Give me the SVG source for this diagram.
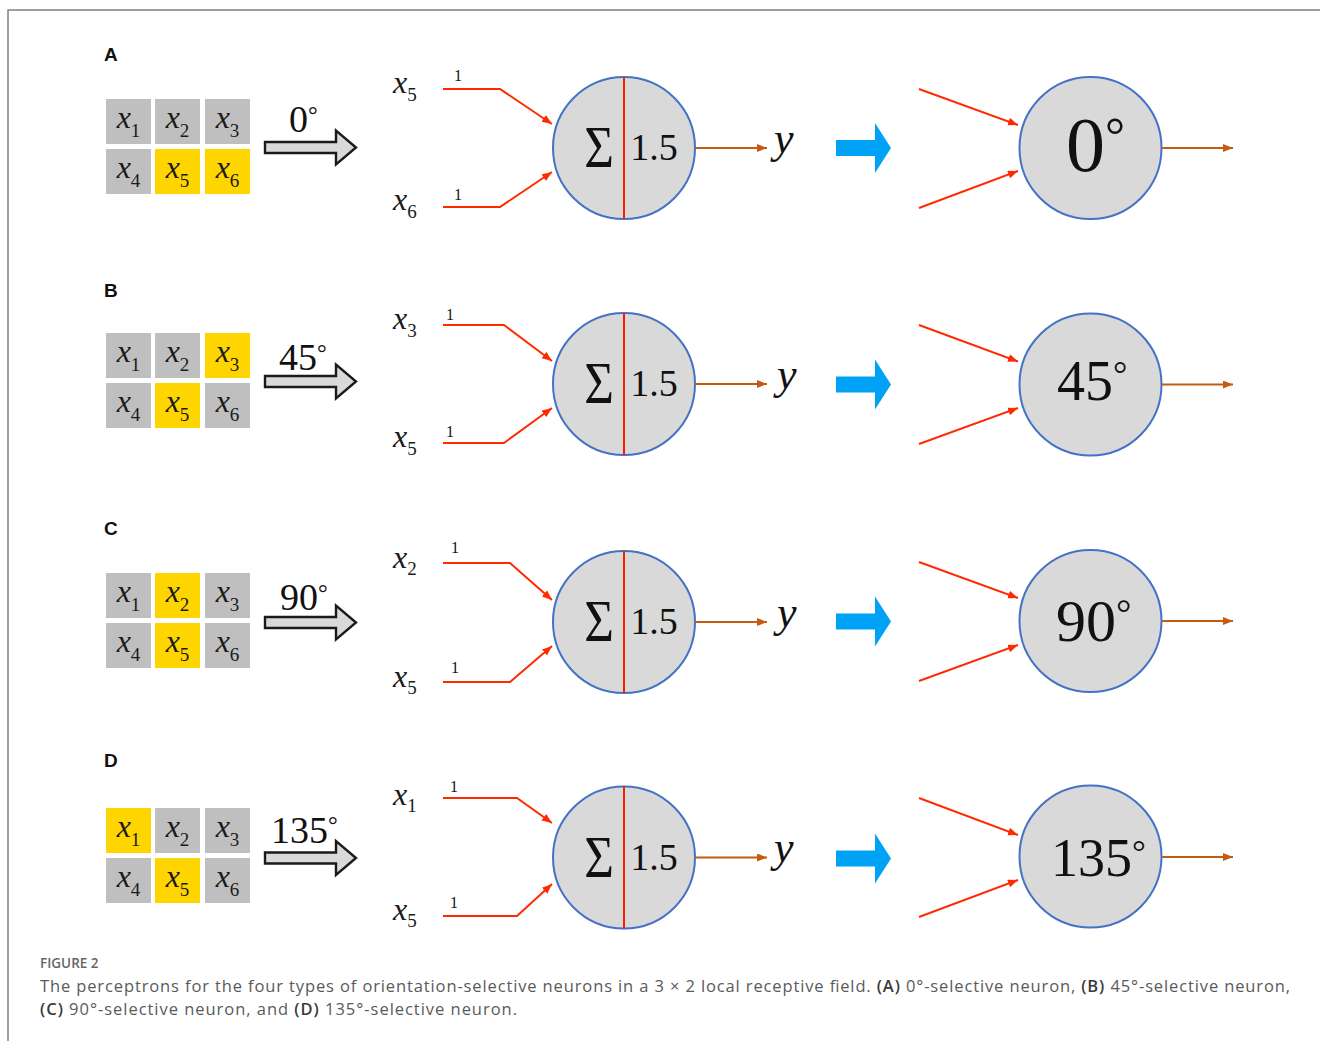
<svg xmlns="http://www.w3.org/2000/svg" xmlns:xlink="http://www.w3.org/1999/xlink" width="1320" height="1041" viewBox="0 0 1320 1041">
<style>
.bg{fill:#ffffff}
.frame{fill:none;stroke:#808080;stroke-width:1.5}
.plabel{font-family:"Liberation Sans",Arial,sans-serif;font-weight:bold;font-size:19px;fill:#111}
.cg{fill:#bfbfbf}
.cy{fill:#ffd500}
.v{font-family:"Liberation Serif","Times New Roman",serif;font-style:italic;font-size:32px;fill:#1a1a1a}
.sub{font-style:normal;font-size:19px}
.w{font-family:"Liberation Serif","Times New Roman",serif;font-size:16px;fill:#111}
.ang{font-family:"Liberation Serif","Times New Roman",serif;font-size:38px;fill:#111}
.big{font-family:"Liberation Serif","Times New Roman",serif;fill:#111}
.deg{font-size:64%}
.sig{font-family:"Liberation Serif","Times New Roman",serif;font-size:60px;fill:#111}
.thr{font-family:"Liberation Serif","Times New Roman",serif;font-size:38px;fill:#111}
.yv{font-family:"Liberation Serif","Times New Roman",serif;font-style:italic;font-size:44px;fill:#111}
.neuron{fill:#d9d9d9;stroke:#4472c4;stroke-width:2}
.split{stroke:#ff1a00;stroke-width:2}
.hollow{fill:#d9d9d9;stroke:#1a1a1a;stroke-width:2.4;stroke-linejoin:miter}
.blue{fill:#00a2f5}
.in{fill:none;stroke:#ff2a00;stroke-width:2;marker-end:url(#mr)}
.out{fill:none;stroke:#c55a11;stroke-width:2;marker-end:url(#mo)}
.cap{font-family:"Open Sans","Liberation Sans",sans-serif;font-size:16.5px;fill:#5a5a5a}
.capb{font-weight:600;fill:#3a3a3a}
.fig{font-family:"Open Sans","Liberation Sans",sans-serif;font-size:13.5px;font-weight:600;fill:#666}
</style>
<defs>
<marker id="mr" markerUnits="userSpaceOnUse" markerWidth="11" markerHeight="9" refX="10" refY="4" orient="auto"><path d="M0,0 L10,4 L0,8 Z" fill="#ff2a00"/></marker>
<marker id="mo" markerUnits="userSpaceOnUse" markerWidth="11" markerHeight="9" refX="10" refY="4" orient="auto"><path d="M0,0 L10,4 L0,8 Z" fill="#c55a11"/></marker>
<path id="ha" d="M265,-5.5 H336 V-17 L356,0 L336,17 V5.5 H265 Z"/>
<path id="ba" d="M836,-8 H875 V-25 L891,0 L875,25 V8 H836 Z"/>
</defs>
<rect class="bg" x="0" y="0" width="1320" height="1041"/>
<path class="frame" d="M8,1041 V10 H1320"/>

<!-- Panel A -->
<g id="panelA">
<text class="plabel" x="104" y="61">A</text>
<g id="gridA">
<rect class="cg" x="106" y="99" width="45" height="45"/><rect class="cg" x="155" y="99" width="45" height="45"/><rect class="cg" x="205" y="99" width="45" height="45"/>
<rect class="cg" x="106" y="149" width="45" height="45"/><rect class="cy" x="155" y="149" width="45" height="45"/><rect class="cy" x="205" y="149" width="45" height="45"/>
<text class="v" x="128.5" y="128" text-anchor="middle">x<tspan class="sub" dy="9">1</tspan></text>
<text class="v" x="177.5" y="128" text-anchor="middle">x<tspan class="sub" dy="9">2</tspan></text>
<text class="v" x="227.5" y="128" text-anchor="middle">x<tspan class="sub" dy="9">3</tspan></text>
<text class="v" x="128.5" y="178" text-anchor="middle">x<tspan class="sub" dy="9">4</tspan></text>
<text class="v" x="177.5" y="178" text-anchor="middle">x<tspan class="sub" dy="9">5</tspan></text>
<text class="v" x="227.5" y="178" text-anchor="middle">x<tspan class="sub" dy="9">6</tspan></text>
</g>
<g id="rotA"><use xlink:href="#ha" href="#ha" y="147.5" class="hollow"/><text class="ang" x="289" y="132">0<tspan class="deg" dy="-9">°</tspan></text></g>
<g id="inputsA">
<text class="v" x="393" y="93">x<tspan class="sub" dy="8">5</tspan></text>
<text class="v" x="393" y="210">x<tspan class="sub" dy="8">6</tspan></text>
<text class="w" x="458" y="81" text-anchor="middle">1</text>
<text class="w" x="458" y="200" text-anchor="middle">1</text>
</g>
<g id="neuronA"><circle class="neuron" cx="624" cy="148" r="71"/><line class="split" x1="624" y1="77" x2="624" y2="219"/>
<text class="sig" transform="translate(599,167) scale(0.85,1)" text-anchor="middle">Σ</text><text class="thr" x="654" y="160" text-anchor="middle">1.5</text></g>
<text class="yv" x="774" y="153">y</text>
<use xlink:href="#ba" href="#ba" y="148" class="blue"/>
<g id="outA"><circle class="neuron" cx="1090.5" cy="148" r="71"/><text class="big" x="1066" y="171" font-size="78">0<tspan class="deg" dy="-19">°</tspan></text></g>
</g>

<!-- Panel B -->
<g id="panelB">
<text class="plabel" x="104" y="297">B</text>
<g id="gridB">
<rect class="cg" x="106" y="333" width="45" height="45"/><rect class="cg" x="155" y="333" width="45" height="45"/><rect class="cy" x="205" y="333" width="45" height="45"/>
<rect class="cg" x="106" y="383" width="45" height="45"/><rect class="cy" x="155" y="383" width="45" height="45"/><rect class="cg" x="205" y="383" width="45" height="45"/>
<text class="v" x="128.5" y="362" text-anchor="middle">x<tspan class="sub" dy="9">1</tspan></text>
<text class="v" x="177.5" y="362" text-anchor="middle">x<tspan class="sub" dy="9">2</tspan></text>
<text class="v" x="227.5" y="362" text-anchor="middle">x<tspan class="sub" dy="9">3</tspan></text>
<text class="v" x="128.5" y="412" text-anchor="middle">x<tspan class="sub" dy="9">4</tspan></text>
<text class="v" x="177.5" y="412" text-anchor="middle">x<tspan class="sub" dy="9">5</tspan></text>
<text class="v" x="227.5" y="412" text-anchor="middle">x<tspan class="sub" dy="9">6</tspan></text>
</g>
<g id="rotB"><use xlink:href="#ha" href="#ha" y="381.5" class="hollow"/><text class="ang" x="279" y="370">45<tspan class="deg" dy="-9">°</tspan></text></g>
<g id="inputsB">
<text class="v" x="393" y="329">x<tspan class="sub" dy="8">3</tspan></text>
<text class="v" x="393" y="447">x<tspan class="sub" dy="8">5</tspan></text>
<text class="w" x="450" y="320" text-anchor="middle">1</text>
<text class="w" x="450" y="437" text-anchor="middle">1</text>
</g>
<g id="neuronB"><circle class="neuron" cx="624" cy="384" r="71"/><line class="split" x1="624" y1="313" x2="624" y2="455"/>
<text class="sig" transform="translate(599,403) scale(0.85,1)" text-anchor="middle">Σ</text><text class="thr" x="654" y="396" text-anchor="middle">1.5</text></g>
<text class="yv" x="777" y="389">y</text>
<use xlink:href="#ba" href="#ba" y="384.5" class="blue"/>
<g id="outB"><circle class="neuron" cx="1090.5" cy="384.5" r="71"/><text class="big" x="1057" y="400" font-size="56">45<tspan class="deg" dy="-14">°</tspan></text></g>
</g>

<!-- Panel C -->
<g id="panelC">
<text class="plabel" x="104" y="535">C</text>
<g id="gridC">
<rect class="cg" x="106" y="573" width="45" height="45"/><rect class="cy" x="155" y="573" width="45" height="45"/><rect class="cg" x="205" y="573" width="45" height="45"/>
<rect class="cg" x="106" y="623" width="45" height="45"/><rect class="cy" x="155" y="623" width="45" height="45"/><rect class="cg" x="205" y="623" width="45" height="45"/>
<text class="v" x="128.5" y="602" text-anchor="middle">x<tspan class="sub" dy="9">1</tspan></text>
<text class="v" x="177.5" y="602" text-anchor="middle">x<tspan class="sub" dy="9">2</tspan></text>
<text class="v" x="227.5" y="602" text-anchor="middle">x<tspan class="sub" dy="9">3</tspan></text>
<text class="v" x="128.5" y="652" text-anchor="middle">x<tspan class="sub" dy="9">4</tspan></text>
<text class="v" x="177.5" y="652" text-anchor="middle">x<tspan class="sub" dy="9">5</tspan></text>
<text class="v" x="227.5" y="652" text-anchor="middle">x<tspan class="sub" dy="9">6</tspan></text>
</g>
<g id="rotC"><use xlink:href="#ha" href="#ha" y="622.5" class="hollow"/><text class="ang" x="280" y="610">90<tspan class="deg" dy="-9">°</tspan></text></g>
<g id="inputsC">
<text class="v" x="393" y="568">x<tspan class="sub" dy="7">2</tspan></text>
<text class="v" x="393" y="687">x<tspan class="sub" dy="7">5</tspan></text>
<text class="w" x="455" y="553" text-anchor="middle">1</text>
<text class="w" x="455" y="673" text-anchor="middle">1</text>
</g>
<g id="neuronC"><circle class="neuron" cx="624" cy="622" r="71"/><line class="split" x1="624" y1="551" x2="624" y2="693"/>
<text class="sig" transform="translate(599,641) scale(0.85,1)" text-anchor="middle">Σ</text><text class="thr" x="654" y="634" text-anchor="middle">1.5</text></g>
<text class="yv" x="777" y="627">y</text>
<use xlink:href="#ba" href="#ba" y="621.5" class="blue"/>
<g id="outC"><circle class="neuron" cx="1090.5" cy="621" r="71"/><text class="big" x="1056" y="641" font-size="60">90<tspan class="deg" dy="-15">°</tspan></text></g>
</g>

<!-- Panel D -->
<g id="panelD">
<text class="plabel" x="104" y="767">D</text>
<g id="gridD">
<rect class="cy" x="106" y="808" width="45" height="45"/><rect class="cg" x="155" y="808" width="45" height="45"/><rect class="cg" x="205" y="808" width="45" height="45"/>
<rect class="cg" x="106" y="858" width="45" height="45"/><rect class="cy" x="155" y="858" width="45" height="45"/><rect class="cg" x="205" y="858" width="45" height="45"/>
<text class="v" x="128.5" y="837" text-anchor="middle">x<tspan class="sub" dy="9">1</tspan></text>
<text class="v" x="177.5" y="837" text-anchor="middle">x<tspan class="sub" dy="9">2</tspan></text>
<text class="v" x="227.5" y="837" text-anchor="middle">x<tspan class="sub" dy="9">3</tspan></text>
<text class="v" x="128.5" y="887" text-anchor="middle">x<tspan class="sub" dy="9">4</tspan></text>
<text class="v" x="177.5" y="887" text-anchor="middle">x<tspan class="sub" dy="9">5</tspan></text>
<text class="v" x="227.5" y="887" text-anchor="middle">x<tspan class="sub" dy="9">6</tspan></text>
</g>
<g id="rotD"><use xlink:href="#ha" href="#ha" y="858" class="hollow"/><text class="ang" x="271" y="843" font-size="41">135<tspan class="deg" dy="-10">°</tspan></text></g>
<g id="inputsD">
<text class="v" x="393" y="805">x<tspan class="sub" dy="7">1</tspan></text>
<text class="v" x="393" y="920">x<tspan class="sub" dy="7">5</tspan></text>
<text class="w" x="454" y="792" text-anchor="middle">1</text>
<text class="w" x="454" y="908" text-anchor="middle">1</text>
</g>
<g id="neuronD"><circle class="neuron" cx="624" cy="857.5" r="71"/><line class="split" x1="624" y1="786.5" x2="624" y2="928.5"/>
<text class="sig" transform="translate(599,877) scale(0.85,1)" text-anchor="middle">Σ</text><text class="thr" x="654" y="870" text-anchor="middle">1.5</text></g>
<text class="yv" x="774" y="862">y</text>
<use xlink:href="#ba" href="#ba" y="858.5" class="blue"/>
<g id="outD"><circle class="neuron" cx="1090.5" cy="856.5" r="71"/><text class="big" x="1051" y="876" font-size="54">135<tspan class="deg" dy="-13">°</tspan></text></g>
</g>

<!-- Connectors -->
<g id="connectors">
<polyline class="in" points="443,89 500,89 552,124"/>
<polyline class="in" points="443,207 500,207 552,172"/>
<line class="out" x1="695" y1="148" x2="767" y2="148"/>
<line class="in" x1="919" y1="89" x2="1018" y2="125"/>
<line class="in" x1="919" y1="208" x2="1018" y2="171"/>
<line class="out" x1="1162" y1="148" x2="1233" y2="148"/>

<polyline class="in" points="443,325 504,325 552,361"/>
<polyline class="in" points="443,443 504,443 552,408"/>
<line class="out" x1="695" y1="384" x2="767" y2="384"/>
<line class="in" x1="919" y1="325" x2="1018" y2="361.5"/>
<line class="in" x1="919" y1="444" x2="1018" y2="408"/>
<line class="out" x1="1162" y1="384.5" x2="1233" y2="384.5"/>

<polyline class="in" points="443,563 510,563 552,600"/>
<polyline class="in" points="443,682 510,682 552,646"/>
<line class="out" x1="695" y1="622" x2="767" y2="622"/>
<line class="in" x1="919" y1="562" x2="1018" y2="598"/>
<line class="in" x1="919" y1="681" x2="1018" y2="645"/>
<line class="out" x1="1162" y1="621" x2="1233" y2="621"/>

<polyline class="in" points="443,798 517,798 552,823"/>
<polyline class="in" points="443,916 517,916 552,884"/>
<line class="out" x1="695" y1="857.5" x2="767" y2="857.5"/>
<line class="in" x1="919" y1="798" x2="1018" y2="835"/>
<line class="in" x1="919" y1="917" x2="1018" y2="880"/>
<line class="out" x1="1162" y1="857" x2="1233" y2="857"/>
</g>

<!-- Caption -->
<g id="caption">
<text class="fig" x="40" y="968">FIGURE 2</text>
<text class="cap" x="40" y="992" textLength="1250" lengthAdjust="spacing">The perceptrons for the four types of orientation-selective neurons in a 3 × 2 local receptive field. <tspan class="capb">(A)</tspan> 0°-selective neuron, <tspan class="capb">(B)</tspan> 45°-selective neuron,</text>
<text class="cap" x="40" y="1015" textLength="477" lengthAdjust="spacing"><tspan class="capb">(C)</tspan> 90°-selective neuron, and <tspan class="capb">(D)</tspan> 135°-selective neuron.</text>
</g>
</svg>
